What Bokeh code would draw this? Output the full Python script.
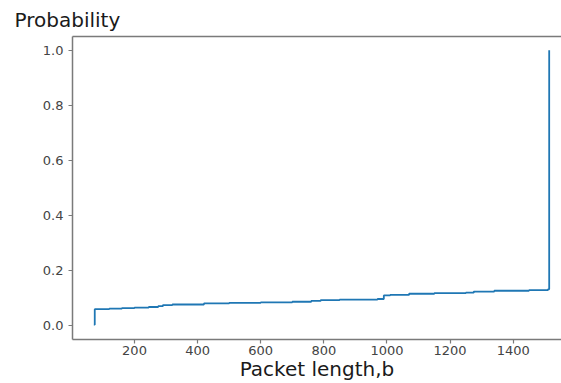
from bokeh.plotting import figure
from bokeh.models import FixedTicker, NumeralTickFormatter, LinearAxis, Range1d
from bokeh.embed import file_html
from bokeh.resources import INLINE

packet_len = [71, 74, 120, 160, 200, 245, 275, 290, 320, 420, 500, 600, 700, 760,
              790, 850, 970, 990, 1010, 1070, 1150, 1250, 1275, 1340, 1450, 1510, 1514]
probability = [0.004, 0.060, 0.062, 0.064, 0.066, 0.068, 0.071, 0.075, 0.077, 0.081,
               0.083, 0.085, 0.087, 0.090, 0.093, 0.095, 0.097, 0.110, 0.112, 0.116,
               0.118, 0.120, 0.124, 0.127, 0.129, 0.132, 1.0]
x_ticks = [200, 400, 600, 800, 1000, 1200, 1400]
y_ticks = [0.0, 0.2, 0.4, 0.6, 0.8, 1.0]

FONT = "DejaVu Sans"
AX = "#7a7a7a"

p = figure(width=561, height=383, output_backend="svg", toolbar_location=None,
           x_range=Range1d(3.5, 1553), y_range=Range1d(-0.05, 1.05),
           x_axis_label="Packet length,b", title="Probability",
           min_border_left=72, min_border_right=0, min_border_top=36, min_border_bottom=0)
p.outline_line_color = None
p.grid.visible = False
p.background_fill_color = "white"
p.border_fill_color = "white"

p.title.text_font = FONT
p.title.text_font_size = "20px"
p.title.text_font_style = "normal"
p.title.text_color = "#1a1a1a"
p.title.align = "left"
p.title.offset = -58
p.title.standoff = 10

for ax in (p.xaxis[0], p.yaxis[0]):
    ax.axis_line_color = AX
    ax.axis_line_width = 1.5
    ax.major_tick_line_color = AX
    ax.major_tick_line_width = 1.2
    ax.major_tick_out = 4
    ax.major_tick_in = 0
    ax.minor_tick_line_color = None
    ax.major_label_text_font = FONT
    ax.major_label_text_font_size = "13px"
    ax.major_label_text_color = "#444444"

p.xaxis[0].ticker = FixedTicker(ticks=x_ticks)
p.yaxis[0].ticker = FixedTicker(ticks=y_ticks)
p.yaxis[0].formatter = NumeralTickFormatter(format="0.0")
p.xaxis[0].major_label_standoff = 2
p.yaxis[0].major_label_standoff = 5
p.xaxis[0].axis_label_text_font = FONT
p.xaxis[0].axis_label_text_font_size = "20px"
p.xaxis[0].axis_label_text_font_style = "normal"
p.xaxis[0].axis_label_text_color = "#1a1a1a"
p.xaxis[0].axis_label_standoff = -1

top = LinearAxis(axis_line_color=AX, axis_line_width=1.5,
                 major_tick_line_color=None, minor_tick_line_color=None,
                 major_label_text_font_size="0px", major_label_standoff=0)
top.ticker = FixedTicker(ticks=[])
p.add_layout(top, "above")

p.step(packet_len, probability, mode="after", line_color="#1f77b4", line_width=1.8)

open("out.html", "w").write(file_html(p, INLINE))
